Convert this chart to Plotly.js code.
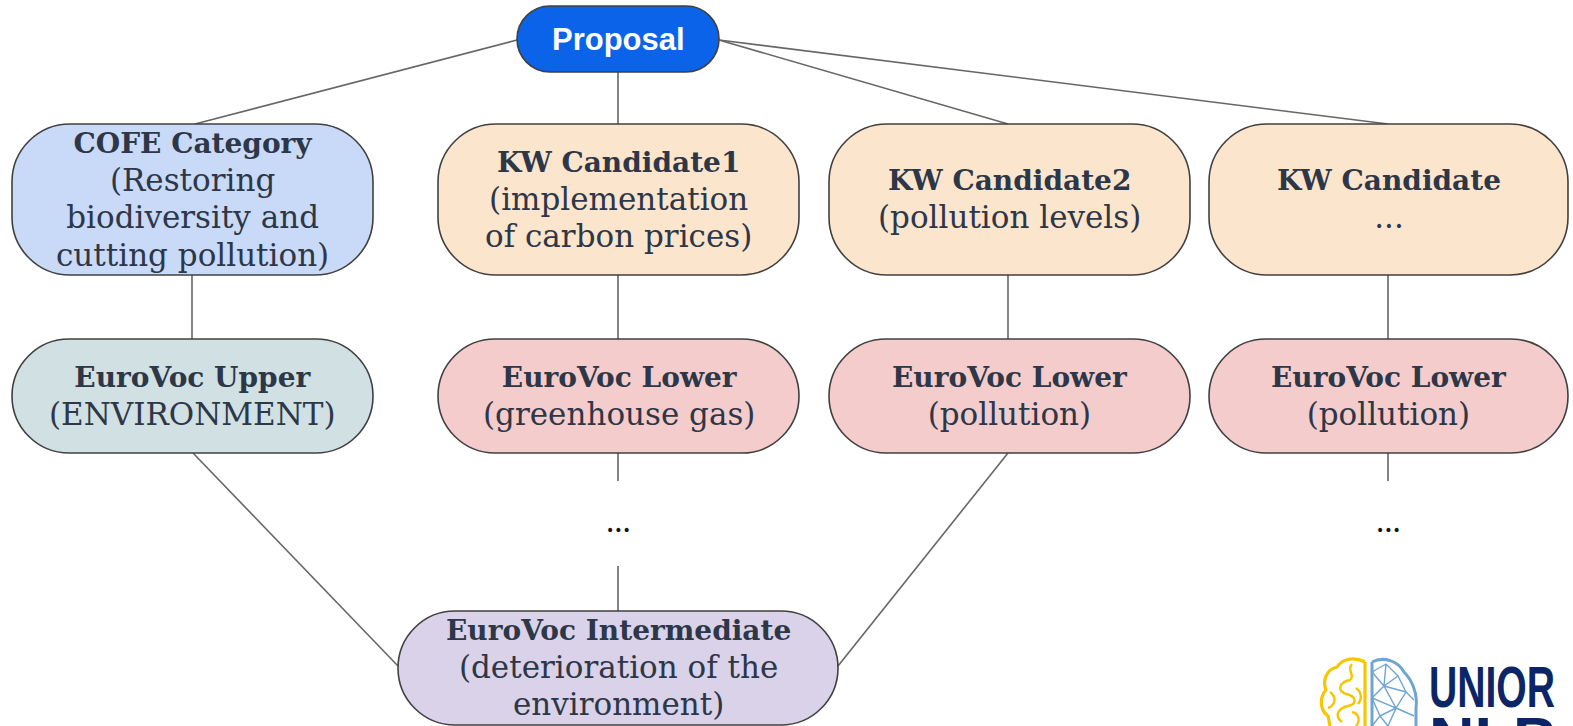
<!DOCTYPE html>
<html><head><meta charset="utf-8">
<script src="https://cdn.plot.ly/plotly-3.0.1.min.js"></script>
<style>html,body{margin:0;padding:0;background:#fff;overflow:hidden;}#chart{width:1573px;height:726px;}</style>
</head><body><div id="chart"></div>
<script>
// ---- diagram content ----
const nodeIds = ["proposal","cofe","kw1","kw2","kw3","upper","lower1","lower2","lower3","inter"];
const nodeTitles = ["Proposal","COFE Category","KW Candidate1","KW Candidate2","KW Candidate","EuroVoc Upper","EuroVoc Lower","EuroVoc Lower","EuroVoc Lower","EuroVoc Intermediate"];
const nodeSubtitles = ["","(Restoring<br>biodiversity and<br>cutting pollution)","(implementation<br>of carbon prices)","(pollution levels)","...","(ENVIRONMENT)","(greenhouse gas)","(pollution)","(pollution)","(deterioration of the<br>environment)"];
const edgeFrom = ["proposal","proposal","proposal","proposal","cofe","kw1","kw2","kw3","upper","lower2"];
const edgeTo   = ["cofe","kw1","kw2","kw3","upper","lower1","lower2","lower3","inter","inter"];
const ellipsisLabel = "•••";
const logoWords = ["UNIOR","NLP"];

// ---- layout geometry (pixels) ----
const box = {
  proposal:[517,6,719,72], cofe:[12,124,373,275], kw1:[438,124,799,275], kw2:[829,124,1190,275], kw3:[1209,124,1568,275],
  upper:[12,339,373,453], lower1:[438,339,799,453], lower2:[829,339,1190,453], lower3:[1209,339,1568,453], inter:[398,611,838,725]
};
const fills = {proposal:"#0b63ea",cofe:"#c9daf8",kw1:"#fce5cd",kw2:"#fce5cd",kw3:"#fce5cd",upper:"#d0e0e3",lower1:"#f4cccc",lower2:"#f4cccc",lower3:"#f4cccc",inter:"#d9d2e9"};
const anchors = {
  "proposal-cofe":[[517,40],[195,124]], "proposal-kw1":[[618,72],[618,124]], "proposal-kw2":[[719,40],[1008,124]], "proposal-kw3":[[719,40],[1388,124]],
  "cofe-upper":[[192,275],[192,339]], "kw1-lower1":[[618,275],[618,339]], "kw2-lower2":[[1008,275],[1008,339]], "kw3-lower3":[[1388,275],[1388,339]],
  "upper-inter":[[193,453],[398,666]], "lower2-inter":[[1008,453],[838,666]]
};
const LINE = "#666666", BORDER = "#404040", TXT = "#2d3748";
const serif = "'DejaVu Serif', 'Liberation Serif', serif";

function pill(b, rmax){
  const [x0,y0,x1,y1]=b; const r=Math.min(rmax,(y1-y0)/2,(x1-x0)/2); const k=0.5523*r;
  return `M${x0+r},${y0} L${x1-r},${y0} C${x1-r+k},${y0} ${x1},${y0+r-k} ${x1},${y0+r} L${x1},${y1-r} C${x1},${y1-r+k} ${x1-r+k},${y1} ${x1-r},${y1} L${x0+r},${y1} C${x0+r-k},${y1} ${x0},${y1-r+k} ${x0},${y1-r} L${x0},${y0+r} C${x0},${y0+r-k} ${x0+r-k},${y0} ${x0+r},${y0} Z`;
}

const shapes=[], annotations=[];
edgeFrom.forEach((f,i)=>{
  const a=anchors[f+"-"+edgeTo[i]];
  shapes.push({type:"line",xref:"x",yref:"y",x0:a[0][0],y0:a[0][1],x1:a[1][0],y1:a[1][1],line:{color:LINE,width:1.6}});
});
[[618,453,618,481],[618,566,618,611],[1388,453,1388,481]].forEach(s=>shapes.push({type:"line",xref:"x",yref:"y",x0:s[0],y0:s[1],x1:s[2],y1:s[3],line:{color:LINE,width:1.6}}));
[[618,530],[1388,530]].forEach(p=>annotations.push({x:p[0],y:p[1],xref:"x",yref:"y",text:ellipsisLabel,showarrow:false,font:{family:"'DejaVu Sans', sans-serif",size:14,color:"#111"}}));

const SUB = 31, TIT = 28, BASE = 29;
nodeIds.forEach((id,i)=>{
  const b=box[id];
  shapes.push({type:"path",xref:"x",yref:"y",path:pill(b, id==="proposal"?40:58),fillcolor:fills[id],line:{color:BORDER,width:1.6}});
  const cx=(b[0]+b[2])/2, cy=(b[1]+b[3])/2;
  if(id==="proposal"){
    annotations.push({x:cx,y:cy,xref:"x",yref:"y",text:"<b>"+nodeTitles[i]+"</b>",showarrow:false,font:{family:"'Liberation Sans', Arial, sans-serif",size:31,color:"#ffffff"}});
  } else {
    const sub = nodeSubtitles[i].split("<br>").map(s=>`<span style="font-size:${SUB}px">${s}</span>`).join("<br>");
    annotations.push({x:cx,y:cy,xref:"x",yref:"y",text:`<b><span style="font-size:${TIT}px">${nodeTitles[i]}</span></b><br>`+sub,showarrow:false,align:"center",font:{family:serif,size:BASE,color:TXT}});
  }
});

// ---- logo ----
const Y="#f7c600", B="#6fa5d2";
shapes.push({type:"path",xref:"x",yref:"y",path:"M1365,662 C1354,656 1342,659 1337,667 C1327,669 1322,680 1326,690 C1319,698 1320,710 1328,716 L1330,726 M1365,662 L1365,726",line:{color:Y,width:3.2}});
shapes.push({type:"path",xref:"x",yref:"y",path:"M1352,664 C1346,670 1356,676 1350,680 C1340,682 1336,690 1346,694 C1356,696 1358,704 1348,706 C1338,708 1334,716 1342,722 M1330,692 C1338,698 1334,706 1328,708 M1356,688 C1362,692 1362,700 1358,704 M1352,712 C1360,714 1360,722 1356,726",line:{color:Y,width:2.4}});
shapes.push({type:"path",xref:"x",yref:"y",path:"M1372,662 C1384,656 1398,661 1404,672 C1412,680 1418,694 1416,708 L1416,726 M1372,662 L1372,726",line:{color:B,width:3}});
shapes.push({type:"path",xref:"x",yref:"y",path:"M1372,672 L1386,664 L1398,676 L1384,686 L1372,672 M1384,686 L1406,692 L1396,708 L1384,686 L1372,698 L1396,708 L1388,726 M1398,676 L1406,692 M1372,698 L1380,716 L1396,708 M1380,716 L1372,726 M1396,708 L1414,716 M1386,664 L1384,686 M1380,716 L1388,726 M1406,692 L1414,700",line:{color:B,width:1.4}});
const logoFont = "'Liberation Sans', Arial, sans-serif";
annotations.push({x:1427,y:721,xref:"x",yref:"y",xanchor:"left",yanchor:"bottom",text:"<b>"+logoWords[0]+"</b>",showarrow:false,font:{family:logoFont,size:58,color:"#0b2566"}});
annotations.push({x:1427,y:703,xref:"x",yref:"y",xanchor:"left",yanchor:"top",text:"<b>"+logoWords[1]+"</b>",showarrow:false,font:{family:logoFont,size:58,color:"#0b2566"}});

Plotly.newPlot("chart",[],{
  width:1573,height:726,margin:{l:0,r:0,t:0,b:0},paper_bgcolor:"#fff",plot_bgcolor:"#fff",
  xaxis:{range:[0,1573],visible:false,fixedrange:true},
  yaxis:{range:[726,0],visible:false,fixedrange:true},
  shapes:shapes,annotations:annotations,showlegend:false
},{staticPlot:true}).then(()=>{
  // condense the logo words horizontally to match the narrow logotype
  const n = annotations.length;
  document.querySelectorAll("#chart .annotation").forEach(g=>{
    const idx = +g.getAttribute("data-index");
    if(idx===n-2 || idx===n-1){
      const t = g.querySelector("text");
      const bb = t.getBBox();
      const sx = 126/bb.width;
      t.setAttribute("transform",`translate(${bb.x},0) scale(${sx},1) translate(${-bb.x},0)`);
    }
  });
});
</script></body></html>
